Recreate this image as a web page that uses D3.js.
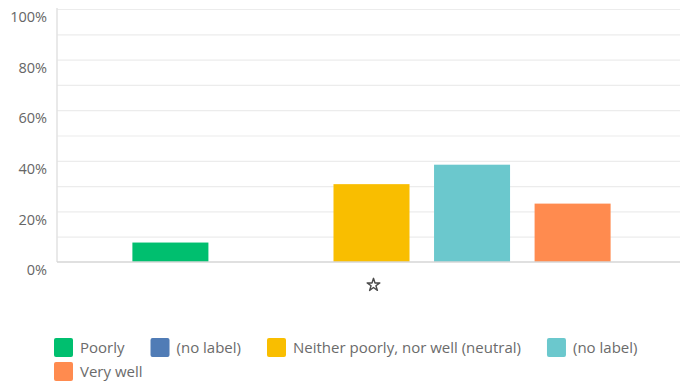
<!DOCTYPE html>
<html>
<head>
<meta charset="utf-8">
<script src="https://cdn.jsdelivr.net/npm/d3@7"></script>
<style>
  html, body { margin: 0; padding: 0; background: #fff; }
  svg { display: block; }
</style>
</head>
<body>
<svg id="chart" width="680" height="383"></svg>
<script>
// ---- data ----
const categories = ["Poorly", "(no label) 1", "Neither poorly, nor well (neutral)", "(no label) 2", "Very well"];
const legendLabels = ["Poorly", "(no label)", "Neither poorly, nor well (neutral)", "(no label)", "Very well"];
const values = [7.69, 0, 30.77, 38.46, 23.08];
const colors = ["#00bf6f", "#507cb6", "#f9be00", "#6bc8cd", "#ff8b4f"];
const yTickLabels = [0, 20, 40, 60, 80, 100];
const gridTicks = [10, 20, 30, 40, 50, 60, 70, 80, 90, 100];
const starCategory = "Neither poorly, nor well (neutral)";

// ---- layout ----
const svg = d3.select("#chart");
const axisX = 57, plotRight = 683, baseY = 262, topY = 9;
const font = "'Open Sans', sans-serif";

const x = d3.scaleBand().domain(categories).range([axisX + 3, plotRight])
  .paddingInner(0.244).paddingOuter(0.72);
const y = d3.scaleLinear().domain([0, 100]).range([baseY, topY]);

// gridlines
const grid = svg.append("g").attr("transform", `translate(${axisX},0)`)
  .call(d3.axisRight(y).tickValues(gridTicks).tickSize(680 - axisX).tickFormat(""));
grid.select(".domain").remove();
grid.selectAll(".tick line").attr("stroke", "#ececec").attr("stroke-width", 1.2);

// y axis line
svg.append("line").attr("x1", axisX).attr("x2", axisX).attr("y1", topY - 1).attr("y2", baseY)
  .attr("stroke", "#e2e2e2").attr("stroke-width", 1.5);

// y tick labels
const yAxis = svg.append("g").attr("transform", `translate(${axisX - 10},0)`)
  .call(d3.axisLeft(y).tickValues(yTickLabels).tickSize(0).tickFormat(d => d + "%"));
yAxis.select(".domain").remove();
yAxis.selectAll("text")
  .attr("x", 0).attr("dy", "0.32em")
  .attr("transform", "translate(0,8)")
  .attr("fill", "#666").attr("font-family", font).attr("font-size", 14.5);

// bars
svg.append("g").selectAll("rect").data(values).join("rect")
  .attr("x", (d, i) => x(categories[i]))
  .attr("width", x.bandwidth())
  .attr("y", d => y(d))
  .attr("height", d => y(0) - y(d))
  .attr("fill", (d, i) => colors[i]);

// baseline
svg.append("line").attr("x1", axisX).attr("x2", 680).attr("y1", baseY).attr("y2", baseY)
  .attr("stroke", "#d6d6d6").attr("stroke-width", 1.5);

// star marker
svg.append("path")
  .attr("d", d3.symbol(d3.symbolStar, 50)())
  .attr("transform", `translate(${x(starCategory) + x.bandwidth() / 2 + 2},${285})`)
  .attr("fill", "none").attr("stroke", "#4a4a4a").attr("stroke-width", 1.4)
  .attr("stroke-linejoin", "round");

// legend
const legend = svg.append("g").attr("font-family", font).attr("font-size", 15).attr("fill", "#6b6b6b");
const rows = [[0, 1, 2, 3], [4]];
rows.forEach((row, r) => {
  let cx = 54;
  const cy = 338 + r * 24;
  row.forEach(i => {
    legend.append("rect").attr("x", cx).attr("y", cy).attr("width", 19).attr("height", 19)
      .attr("rx", 2).attr("fill", colors[i]);
    const t = legend.append("text").attr("x", cx + 26).attr("y", cy + 10).attr("dy", "0.35em")
      .text(legendLabels[i]);
    cx += 26 + t.node().getComputedTextLength() + 26;
  });
});
</script>
</body>
</html>
